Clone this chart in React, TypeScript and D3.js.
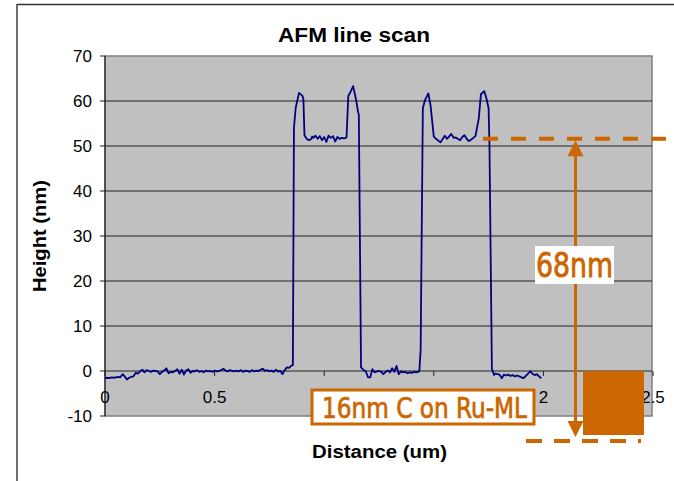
import React from "react";
import * as d3 from "d3";

const distance: number[] = [
  0.00, 0.01, 0.02, 0.03, 0.04, 0.05, 0.06, 0.07, 0.08, 0.09,
  0.10, 0.11, 0.12, 0.13, 0.14, 0.15, 0.16, 0.17, 0.18, 0.19,
  0.20, 0.21, 0.22, 0.23, 0.24, 0.25, 0.26, 0.27, 0.28, 0.29,
  0.30, 0.31, 0.32, 0.33, 0.34, 0.35, 0.36, 0.37, 0.38, 0.39,
  0.40, 0.41, 0.42, 0.43, 0.44, 0.45, 0.46, 0.47, 0.48, 0.49,
  0.50, 0.51, 0.52, 0.53, 0.54, 0.55, 0.56, 0.57, 0.58, 0.59,
  0.60, 0.61, 0.62, 0.63, 0.64, 0.65, 0.66, 0.67, 0.68, 0.69,
  0.70, 0.71, 0.72, 0.73, 0.74, 0.75, 0.76, 0.77, 0.78, 0.79,
  0.80, 0.81, 0.82, 0.83, 0.84, 0.85, 0.857, 0.862, 0.87, 0.885,
  0.90, 0.905, 0.91, 0.92, 0.93, 0.94, 0.945, 0.95, 0.96, 0.97,
  0.98, 0.99, 1.00, 1.01, 1.02, 1.03, 1.04, 1.05, 1.06, 1.07,
  1.08, 1.09, 1.10, 1.102, 1.11, 1.12, 1.132, 1.145, 1.155, 1.158,
  1.168, 1.18, 1.19, 1.20, 1.21, 1.22, 1.23, 1.24, 1.25, 1.26,
  1.27, 1.28, 1.29, 1.30, 1.31, 1.32, 1.33, 1.34, 1.35, 1.36,
  1.37, 1.38, 1.39, 1.40, 1.41, 1.42, 1.43, 1.434, 1.44, 1.45,
  1.46, 1.475, 1.485, 1.50, 1.51, 1.53, 1.54, 1.55, 1.56, 1.58,
  1.59, 1.60, 1.62, 1.63, 1.64, 1.65, 1.66, 1.67, 1.68, 1.69,
  1.705, 1.715, 1.73, 1.74, 1.75, 1.754, 1.765, 1.775, 1.78, 1.79,
  1.80, 1.81, 1.82, 1.83, 1.84, 1.85, 1.86, 1.87, 1.88, 1.89,
  1.90, 1.91, 1.92, 1.93, 1.94, 1.95, 1.96, 1.97, 1.98, 1.99,
];

const height: number[] = [
  -1.6, -1.5, -1.6, -1.4, -1.5, -1.4, -1.3, -1.4, -0.7, -1.2,
  -1.9, -1.5, -1.3, -1.2, -0.4, -0.6, -0.1, 0.3, -0.3, 0.2,
  0.0, -0.2, 0.1, 0.0, -0.1, -0.7, -0.2, 0.1, 0.6, -0.5,
  -0.2, -0.3, 0.0, 0.4, -0.6, 0.3, -0.8, 0.1, 0.4, -0.4,
  0.0, -0.1, 0.2, -0.2, 0.0, -0.3, 0.1, -0.1, 0.0, -0.2,
  0.1, -0.1, 0.0, 0.2, 0.5, 0.1, -0.1, 0.2, 0.0, -0.1,
  0.1, -0.1, 0.2, -0.2, 0.1, 0.0, -0.2, 0.2, -0.1, 0.1,
  0.0, 0.3, 0.5, 0.0, 0.2, -0.1, 0.1, -0.2, 0.3, -0.1,
  0.0, -0.7, 0.2, 0.8, 0.7, 1.2, 1.3, 54.0, 58.5, 61.8,
  61.2, 60.5, 52.4, 51.6, 51.3, 51.5, 52.1, 51.8, 52.3, 51.6,
  52.2, 51.3, 52.0, 50.9, 52.3, 51.8, 52.2, 51.0, 52.0, 51.6,
  51.8, 51.7, 51.8, 52.0, 61.1, 62.0, 63.3, 60.4, 57.4, 57.0,
  0.8, 0.2, -0.1, -1.4, -1.4, 0.4, -0.3, -0.1, 0.0, -0.2,
  -0.7, -0.2, 0.1, -0.3, 0.6, -0.2, 1.1, -0.7, -0.1, -0.3,
  -0.2, -0.5, -0.3, -0.4, -0.2, -0.3, -0.2, 0.0, 4.7, 58.4,
  60.2, 61.7, 59.1, 52.1, 51.6, 50.8, 51.5, 52.3, 51.6, 52.7,
  51.8, 51.9, 51.3, 52.0, 52.4, 51.6, 51.1, 51.4, 51.8, 52.2,
  56.1, 61.5, 62.2, 60.6, 58.4, 50.0, 0.5, -0.9, -0.6, -0.7,
  -0.8, -1.6, -0.8, -1.0, -0.8, -1.1, -0.9, -1.2, -1.0, -1.2,
  -1.4, -1.6, -1.1, -0.6, 0.0, -0.6, -0.9, -0.7, -1.2, -1.6,
];

const xTicks: number[] = [0, 0.5, 1, 1.5, 2, 2.5];
const xTickLabels: string[] = ["0", "0.5", "1", "1.5", "2", "2.5"];
const yTicks: number[] = [-10, 0, 10, 20, 30, 40, 50, 60, 70];

const title = "AFM line scan";
const xTitle = "Distance (um)";
const yTitle = "Height (nm)";
const stepLabel = "68nm";
const boxLabel = "16nm C on Ru-ML";
const stepTop = 51.6; // nm level of dashed marker

const ORANGE = "#CC6600";
const FONT = "Arial, 'Liberation Sans', Helvetica, sans-serif";
const DIN = "'DejaVu Sans Condensed', 'DejaVu Sans', sans-serif";

export default function App() {
  const W = 674;
  const H = 481;
  const left = 105;
  const right = 652;
  const top = 56;
  const bottom = 416;

  const x = d3.scaleLinear().domain([0, 2.5]).range([left, 653]);
  const y = d3.scaleLinear().domain([-10, 70]).range([bottom, top]);

  const pts: [number, number][] = distance.map((d, i) => [d, height[i]]);
  const line = d3
    .line<[number, number]>()
    .x((d) => x(d[0]))
    .y((d) => y(d[1]));

  const y0 = y(0);
  const yTopDash = y(stepTop);
  const arrowX = 575.5;
  const arrowTop = yTopDash + 1.5;
  const arrowBottom = 437;

  return (
    <svg
      width={W}
      height={H}
      style={{ position: "absolute", left: 0, top: 0, background: "#fff" }}
    >
      {/* chart frame */}
      <line x1={17} y1={4.5} x2={674} y2={4.5} stroke="#333" strokeWidth={1.4} />
      <line x1={17} y1={4} x2={17} y2={481} stroke="#333" strokeWidth={1.4} />

      {/* plot area */}
      <rect
        x={left}
        y={top}
        width={right - left}
        height={bottom - top}
        fill="#C0C0C0"
        stroke="#808080"
        strokeWidth={1.5}
      />

      {/* gridlines */}
      {yTicks
        .filter((t) => t !== -10 && t !== 70 && t !== 0)
        .map((t) => (
          <line
            key={"g" + t}
            x1={left}
            x2={right}
            y1={y(t)}
            y2={y(t)}
            stroke="#222"
            strokeWidth={1}
          />
        ))}

      {/* y axis */}
      <line x1={left} x2={left} y1={top} y2={bottom} stroke="#222" strokeWidth={1.2} />
      {yTicks.map((t) => (
        <g key={"yt" + t}>
          <line x1={left - 5} x2={left} y1={y(t)} y2={y(t)} stroke="#222" strokeWidth={1} />
          <text
            x={92}
            y={y(t)}
            dy="0.35em"
            textAnchor="end"
            fontFamily={FONT}
            fontSize={17}
            fill="#000"
          >
            {t}
          </text>
        </g>
      ))}

      {/* x axis at y=0 */}
      <line x1={left} x2={right} y1={y0} y2={y0} stroke="#222" strokeWidth={1.2} />
      {xTicks.map((t, i) => (
        <g key={"xt" + t}>
          <line x1={x(t)} x2={x(t)} y1={y0} y2={y0 + 5} stroke="#222" strokeWidth={1} />
          <text
            x={x(t)}
            y={403}
            textAnchor="middle"
            fontFamily={FONT}
            fontSize={17}
            fill="#000"
          >
            {xTickLabels[i]}
          </text>
        </g>
      ))}

      {/* data line */}
      <path d={line(pts) || ""} fill="none" stroke="#000080" strokeWidth={1.8} strokeLinejoin="round" />

      {/* titles */}
      <text
        x={354}
        y={42}
        textAnchor="middle"
        fontFamily={FONT}
        fontWeight="bold"
        fontSize={20}
        textLength={152}
        lengthAdjust="spacingAndGlyphs"
      >
        {title}
      </text>
      <text
        x={379.5}
        y={458}
        textAnchor="middle"
        fontFamily={FONT}
        fontWeight="bold"
        fontSize={17.5}
        textLength={135}
        lengthAdjust="spacingAndGlyphs"
      >
        {xTitle}
      </text>
      <text
        transform={`translate(46, 236) rotate(-90)`}
        textAnchor="middle"
        fontFamily={FONT}
        fontWeight="bold"
        fontSize={17.5}
        textLength={112}
        lengthAdjust="spacingAndGlyphs"
      >
        {yTitle}
      </text>

      {/* annotations */}
      <line
        x1={483}
        x2={674}
        y1={yTopDash}
        y2={yTopDash}
        stroke={ORANGE}
        strokeWidth={4}
        strokeDasharray="15 13"
      />
      <line
        x1={526}
        x2={641}
        y1={441}
        y2={441}
        stroke={ORANGE}
        strokeWidth={4}
        strokeDasharray="16 12"
      />
      <line
        x1={arrowX}
        x2={arrowX}
        y1={arrowTop + 14}
        y2={arrowBottom - 14}
        stroke={ORANGE}
        strokeWidth={3}
      />
      <path
        d={`M${arrowX},${arrowTop} L${arrowX - 8},${arrowTop + 16} L${arrowX + 8},${arrowTop + 16} Z`}
        fill={ORANGE}
      />
      <path
        d={`M${arrowX},${arrowBottom} L${arrowX - 8},${arrowBottom - 16} L${arrowX + 8},${arrowBottom - 16} Z`}
        fill={ORANGE}
      />
      <rect x={583} y={371} width={61} height={64} fill={ORANGE} />

      <rect x={535} y={246} width={79} height={38} fill="#fff" />
      <text
        x={536}
        y={277}
        fontFamily={DIN}
        fontSize={33}
        fill={ORANGE}
        stroke={ORANGE}
        strokeWidth={0.8}
        textLength={77}
        lengthAdjust="spacingAndGlyphs"
      >
        {stepLabel}
      </text>

      <rect x={312} y={390} width={222} height={34} fill="#fff" stroke={ORANGE} strokeWidth={3} />
      <text
        x={322}
        y={418}
        fontFamily={DIN}
        fontSize={28}
        fill={ORANGE}
        stroke={ORANGE}
        strokeWidth={0.7}
        textLength={205}
        lengthAdjust="spacingAndGlyphs"
      >
        {boxLabel}
      </text>
    </svg>
  );
}
